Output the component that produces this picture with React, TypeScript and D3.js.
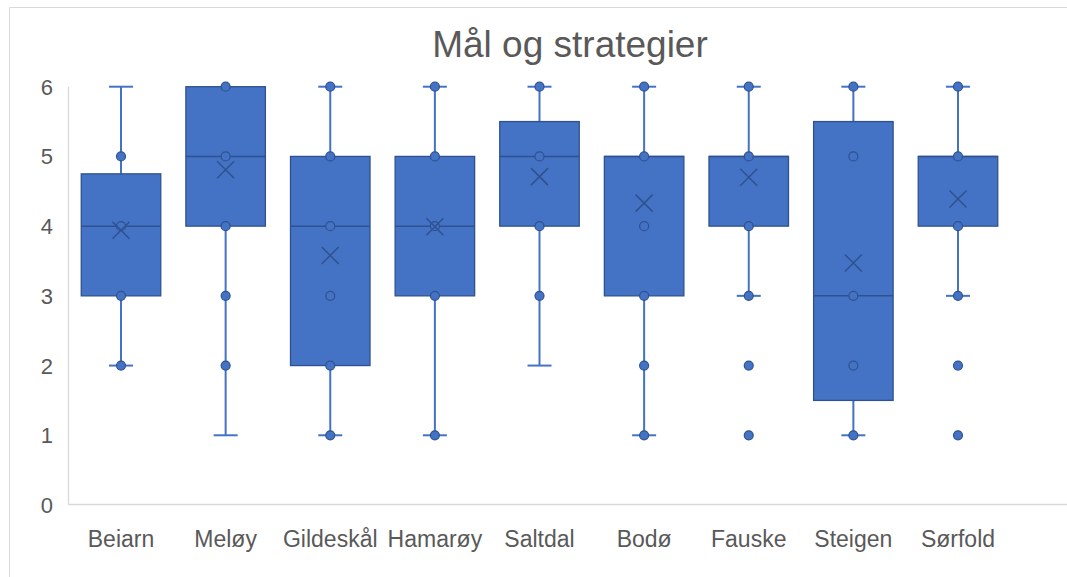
import React from "react";
import * as d3 from "d3";

const categories = ["Beiarn", "Meløy", "Gildeskål", "Hamarøy", "Saltdal", "Bodø", "Fauske", "Steigen", "Sørfold"];
const q1Values = [3, 4, 2, 3, 4, 3, 4, 1.5, 4];
const medianValues = [4, 5, 4, 4, 5, 5, 5, 3, 5];
const q3Values = [4.75, 6, 5, 5, 5.5, 5, 5, 5.5, 5];
const whiskerLow = [2, 1, 1, 1, 2, 1, 3, 1, 3];
const whiskerHigh = [6, 6, 6, 6, 6, 6, 6, 6, 6];
const meanValues = [3.94, 4.81, 3.58, 3.99, 4.71, 4.33, 4.7, 3.47, 4.39];
const pointValues = [
  [2, 3, 4, 5],
  [2, 3, 4, 5, 6],
  [1, 2, 3, 4, 5, 6],
  [1, 3, 4, 5, 6],
  [3, 4, 5, 6],
  [1, 2, 3, 4, 5, 6],
  [1, 2, 3, 4, 5, 6],
  [1, 2, 3, 5, 6],
  [1, 2, 3, 4, 5, 6],
];
const yTicks = [0, 1, 2, 3, 4, 5, 6];
const title = "Mål og strategier";

const FILL = "#4472C4";
const DARK = "#2F528F";
const TEXT = "#595959";
const GRID = "#d9d9d9";
const FONT = "'Liberation Sans', Arial, sans-serif";

export default function App() {
  const W = 1067;
  const H = 577;
  const x = d3.scaleBand<string>().domain(categories).range([68.7, 1010.3]).padding(0);
  const y = d3.scaleLinear().domain([0, 6]).range([505, 86.7]);
  const bw = x.bandwidth() * 0.76;
  const capHalf = 12;
  const xs = 8.5;

  return (
    <svg width={W} height={H} style={{ position: "absolute", left: 0, top: 0, background: "#fff" }}>
      <rect x={0} y={0} width={W} height={H} fill="#fff" />
      {/* outer frame */}
      <line x1={9.5} y1={7.5} x2={W} y2={7.5} stroke={GRID} strokeWidth={1} />
      <line x1={9.5} y1={7.5} x2={9.5} y2={H} stroke={GRID} strokeWidth={1} />
      {/* title */}
      <text x={570} y={57} textAnchor="middle" fontFamily={FONT} fontSize={37} fill={TEXT}>
        {title}
      </text>
      {/* axes */}
      <line x1={68.5} y1={y(6)} x2={68.5} y2={504.5} stroke={GRID} strokeWidth={1.3} />
      <line x1={68} y1={504.5} x2={W} y2={504.5} stroke={GRID} strokeWidth={1.3} />
      {yTicks.map((t) => (
        <text key={t} x={53} y={y(t) + 8} textAnchor="end" fontFamily={FONT} fontSize={22} fill={TEXT}>
          {t}
        </text>
      ))}
      {categories.map((c) => (
        <text key={c} x={(x(c) as number) + x.bandwidth() / 2} y={547} textAnchor="middle" fontFamily={FONT} fontSize={23} fill={TEXT}>
          {c}
        </text>
      ))}
      {categories.map((c, i) => {
        const cx = (x(c) as number) + x.bandwidth() / 2;
        const lo = whiskerLow[i];
        const hi = whiskerHigh[i];
        const q1 = q1Values[i];
        const q3 = q3Values[i];
        const m = meanValues[i];
        return (
          <g key={c}>
            {hi > q3 && (
              <g>
                <line x1={cx} x2={cx} y1={y(hi)} y2={y(q3)} stroke={FILL} strokeWidth={2} />
                <line x1={cx - capHalf} x2={cx + capHalf} y1={y(hi)} y2={y(hi)} stroke={FILL} strokeWidth={2} />
              </g>
            )}
            {lo < q1 && (
              <g>
                <line x1={cx} x2={cx} y1={y(q1)} y2={y(lo)} stroke={FILL} strokeWidth={2} />
                <line x1={cx - capHalf} x2={cx + capHalf} y1={y(lo)} y2={y(lo)} stroke={FILL} strokeWidth={2} />
              </g>
            )}
            <rect x={cx - bw / 2} y={y(q3)} width={bw} height={y(q1) - y(q3)} fill={FILL} stroke={DARK} strokeWidth={1.3} />
            <line x1={cx - bw / 2} x2={cx + bw / 2} y1={y(medianValues[i])} y2={y(medianValues[i])} stroke={DARK} strokeWidth={1.5} />
            {pointValues[i].map((p, j) => (
              <circle key={j} cx={cx} cy={y(p)} r={4.5} fill={FILL} stroke={DARK} strokeWidth={1.2} />
            ))}
            <path
              d={`M${cx - xs},${y(m) - xs}L${cx + xs},${y(m) + xs}M${cx - xs},${y(m) + xs}L${cx + xs},${y(m) - xs}`}
              stroke={DARK}
              strokeWidth={1.5}
              fill="none"
            />
          </g>
        );
      })}
    </svg>
  );
}
